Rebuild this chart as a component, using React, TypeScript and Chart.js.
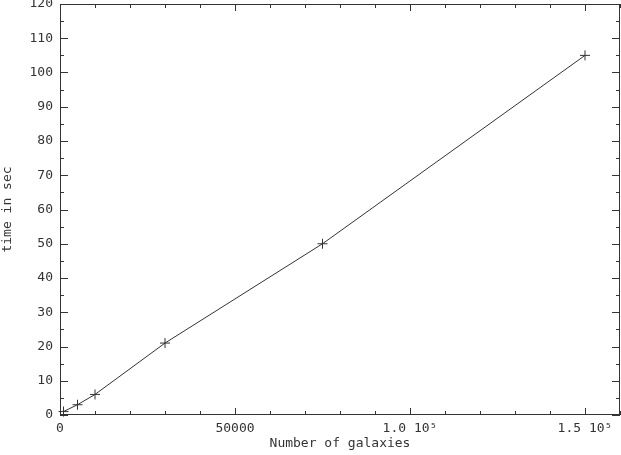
import React, { useEffect, useRef } from "react";
import { Chart, registerables } from "chart.js";

Chart.register(...registerables);

const galaxies = [1000, 5000, 10000, 30000, 75000, 150000];
const timeSec = [1, 3, 6, 21, 50, 105];
const xTickValues = [0, 50000, 100000, 150000];
const xTickLabels = ["0", "50000", "1.0 10\u2075", "1.5 10\u2075"];
const xMinorStep = 10000;
const yMinorStep = 5;
const xAxisTitle = "Number of galaxies";
const yAxisTitle = "time in sec";

const INK = "#333333";
const FONT = { family: "'DejaVu Sans Mono', monospace", size: 13 };

const frameTicks = {
  id: "frameTicks",
  afterDraw(chart: any) {
    const { ctx, chartArea } = chart;
    const { left, right, top, bottom } = chartArea;
    const xs = chart.scales.x;
    const ys = chart.scales.y;
    ctx.save();
    ctx.strokeStyle = INK;
    ctx.lineWidth = 1;
    ctx.strokeRect(Math.round(left) + 0.5, Math.round(top) + 0.5, Math.round(right - left) - 1, Math.round(bottom - top) - 1);
    ctx.beginPath();
    for (let v = xs.min; v <= xs.max + 1e-9; v += xMinorStep) {
      const px = Math.round(xs.getPixelForValue(v)) + 0.5;
      const len = v % 50000 === 0 ? 7 : 4;
      ctx.moveTo(px, bottom);
      ctx.lineTo(px, bottom - len);
      ctx.moveTo(px, top);
      ctx.lineTo(px, top + len);
    }
    for (let v = ys.min; v <= ys.max + 1e-9; v += yMinorStep) {
      const py = Math.round(ys.getPixelForValue(v)) + 0.5;
      const len = v % 10 === 0 ? 8 : 4;
      ctx.moveTo(left, py);
      ctx.lineTo(left + len, py);
      ctx.moveTo(right, py);
      ctx.lineTo(right - len, py);
    }
    ctx.stroke();
    ctx.restore();
  },
};

const zeroPad = (s: any) => {
  s.paddingLeft = 0;
  s.paddingRight = 0;
  s.paddingTop = 0;
  s.paddingBottom = 0;
};

export default function App() {
  const ref = useRef<HTMLCanvasElement>(null);
  useEffect(() => {
    if (!ref.current) return;
    const chart = new Chart(ref.current, {
      type: "line",
      data: {
        datasets: [
          {
            data: galaxies.map((g, i) => ({ x: g, y: timeSec[i] })),
            borderColor: INK,
            borderWidth: 1,
            pointStyle: "cross",
            pointRadius: 5,
            pointBorderColor: INK,
            pointBorderWidth: 1,
            tension: 0,
            fill: false,
            clip: false,
          },
        ],
      },
      options: {
        animation: false,
        responsive: false,
        layout: { autoPadding: false, padding: { top: 4, right: 1, left: 0, bottom: 0 } },
        plugins: { legend: { display: false }, tooltip: { enabled: false } },
        scales: {
          x: {
            type: "linear",
            min: 0,
            max: 160000,
            grid: { display: false, drawTicks: false },
            border: { display: false },
            afterBuildTicks: (s: any) => {
              s.ticks = xTickValues.map((v) => ({ value: v }));
            },
            afterFit: (s: any) => {
              s.height = 40;
              zeroPad(s);
            },
            ticks: {
              color: INK,
              font: FONT,
              padding: 6,
              maxRotation: 0,
              autoSkip: false,
              callback: (v: any) => {
                const i = xTickValues.indexOf(Number(v));
                return i >= 0 ? xTickLabels[i] : "";
              },
            },
            title: { display: true, text: xAxisTitle, color: INK, font: FONT, padding: { top: 0, bottom: 4 } },
          },
          y: {
            type: "linear",
            min: 0,
            max: 120,
            grid: { display: false, drawTicks: false },
            border: { display: false },
            afterFit: (s: any) => {
              s.width = 60;
              zeroPad(s);
            },
            ticks: { color: INK, font: FONT, padding: 7, stepSize: 10 },
            title: { display: true, text: yAxisTitle, color: INK, font: FONT, padding: 0 },
          },
        },
      },
      plugins: [frameTicks],
    });
    return () => chart.destroy();
  }, []);
  return (
    <div style={{ position: "absolute", left: 0, top: 0, width: 621, height: 455, background: "#fff" }}>
      <canvas ref={ref} width={621} height={455} />
    </div>
  );
}
